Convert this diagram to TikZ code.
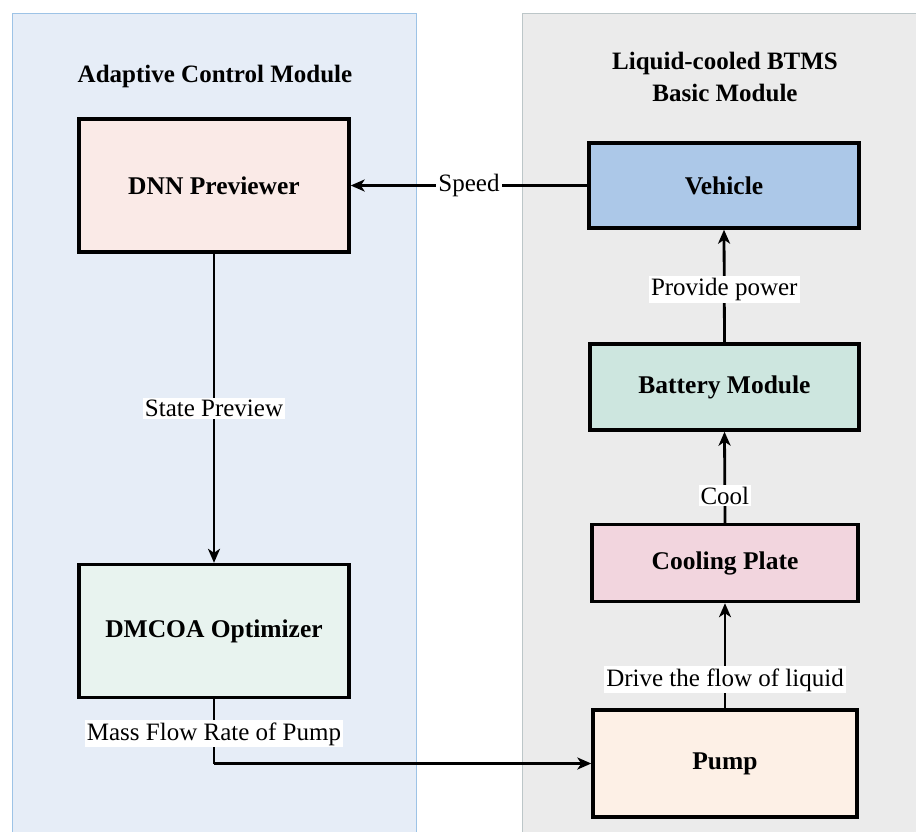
\documentclass[tikz,border=0pt]{standalone}
\usepackage{fontspec}
\setmainfont{Liberation Serif}
\usetikzlibrary{arrows.meta}
\definecolor{leftfill}{HTML}{E6EDF7}
\definecolor{leftline}{HTML}{9DC3E6}
\definecolor{rightfill}{HTML}{EBEBEB}
\definecolor{rightline}{HTML}{BCC6C8}
\definecolor{dnnfill}{HTML}{FAEAE7}
\definecolor{optfill}{HTML}{E8F3EF}
\definecolor{vehfill}{HTML}{ACC8E8}
\definecolor{batfill}{HTML}{CDE6DF}
\definecolor{coolfill}{HTML}{F2D5DE}
\definecolor{pumpfill}{HTML}{FDF0E6}
\tikzset{
  block/.style={draw=black, line width=3.4pt, rectangle, inner sep=0pt,
    font=\fontsize{25.5}{30}\selectfont\bfseries},
  flow/.style={line width=2.8pt, -{Stealth[length=14pt,width=12pt,inset=4pt]}},
  link/.style={line width=2.8pt},
  tag/.style={fill=white, inner sep=2pt, font=\fontsize{25}{30}\selectfont},
  heading/.style={align=center, font=\fontsize{25}{32}\selectfont\bfseries}
}
\begin{document}
\begin{tikzpicture}[x=1pt,y=-1pt]
\useasboundingbox (0,0) rectangle (916,831);
\clip (0,0) rectangle (916,831);
\fill[white] (0,0) rectangle (916,831);

% module panels
\draw[leftline, fill=leftfill, line width=1pt] (12,13) rectangle (416,850);
\draw[rightline, fill=rightfill, line width=1pt] (522,13) rectangle (930,850);

\node[heading] (tleft) at (215,76) {Adaptive Control Module};
\node[heading] (tright) at (725,77) {Liquid-cooled BTMS\\Basic Module};

% blocks
\node[block, fill=dnnfill, minimum width=270pt, minimum height=133pt] (dnn) at (214,185.5) {DNN Previewer};
\node[block, fill=optfill, minimum width=270pt, minimum height=133pt] (opt) at (214,631) {DMCOA Optimizer};
\node[block, fill=vehfill, minimum width=270pt, minimum height=85pt] (veh) at (724,185.5) {Vehicle};
\node[block, fill=batfill, minimum width=269pt, minimum height=86pt] (bat) at (724.5,387) {Battery Module};
\node[block, fill=coolfill, minimum width=266pt, minimum height=77pt] (cool) at (725,563) {Cooling Plate};
\node[block, fill=pumpfill, minimum width=264pt, minimum height=107pt] (pump) at (725,763.5) {Pump};

\coordinate (bend) at (opt.south |- pump.west);

% connectors
\draw[flow] (veh.west) -- node[tag, pos=0.5] {Speed} (dnn.east);
\draw[flow] (dnn.south) -- node[tag, pos=0.5] {State Preview} (opt.north);
\draw[flow] (bat.north) -- node[tag, pos=0.47] {Provide power} (veh.south);
\draw[flow] (cool.north) -- node[tag, pos=0.3] {Cool} (bat.south);
\draw[flow] (pump.north) -- node[tag, pos=0.27] {Drive the flow of liquid} (cool.south);
\draw[link] (opt.south) -- node[tag, pos=0.54] {Mass Flow Rate of Pump} (bend);
\draw[flow] (bend) -- (pump.west);
\end{tikzpicture}
\end{document}
